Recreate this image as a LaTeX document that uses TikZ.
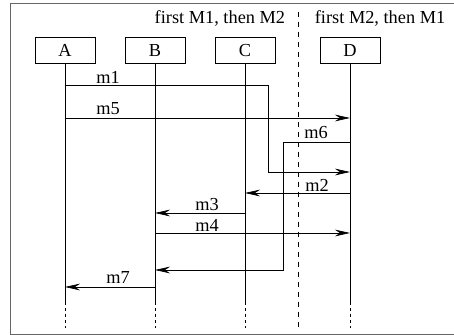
\documentclass[tikz,border=0pt]{standalone}
\usepackage{fontspec}
\setmainfont{Liberation Serif}
\usetikzlibrary{arrows.meta}
\begin{document}
\begin{tikzpicture}[x=0.6pt,y=-0.6pt,font=\fontsize{11}{13}\selectfont,
  obj/.style={draw,minimum width=36pt,minimum height=16pt,inner sep=0pt},
  msg/.style={-{Stealth[length=9pt,width=4pt,inset=3pt]}},
  lbl/.style={inner sep=1pt}]
\useasboundingbox (0,0) rectangle (454,335);
\clip (0,0) rectangle (454,335);
\draw[gray!80!black] (10,3) rectangle (470,334);

% objects
\node[obj] (A) at (65,50.5) {A};
\node[obj] (B) at (155,50.5) {B};
\node[obj] (C) at (245,50.5) {C};
\node[obj] (D) at (350,50.5) {D};

% lifelines
\foreach \o in {A,B,C,D} {
  \coordinate (\o end) at (\o |- 0,302);
  \coordinate (\o tail) at (\o |- 0,328);
  \draw (\o.south) -- (\o end);
  \draw[dash pattern=on 2pt off 1.6pt] (\o end) -- (\o tail);
}

% split
\coordinate (splittop) at (298,12);
\coordinate (splitbot) at (298,328);
\draw[dashed] (splittop) -- (splitbot);
\node[anchor=east] (t1) at (291,18) {first M1, then M2};
\node[anchor=west] (t2) at (309,18) {first M2, then M1};

% messages
\draw[msg] (A |- 0,85) -- (268,85) |- (D |- 0,172);
\node[lbl] (l1) at (108,77) {m1};
\draw[msg] (A |- 0,118) -- (D |- 0,118);
\node[lbl] (l5) at (108,109) {m5};
\draw[msg] (D |- 0,142) -- (283,142) |- (B |- 0,270);
\node[lbl] (l6) at (316,133) {m6};
\draw[msg] (D |- 0,193) -- (C |- 0,193);
\node[lbl] (l2) at (317,185) {m2};
\draw[msg] (C |- 0,213) -- (B |- 0,213);
\node[lbl] (l3) at (207,205) {m3};
\draw[msg] (B |- 0,233) -- (D |- 0,233);
\node[lbl] (l4) at (207,225) {m4};
\draw[msg] (B |- 0,287) -- (A |- 0,287);
\node[lbl] (l7) at (118,278) {m7};
\end{tikzpicture}
\end{document}
